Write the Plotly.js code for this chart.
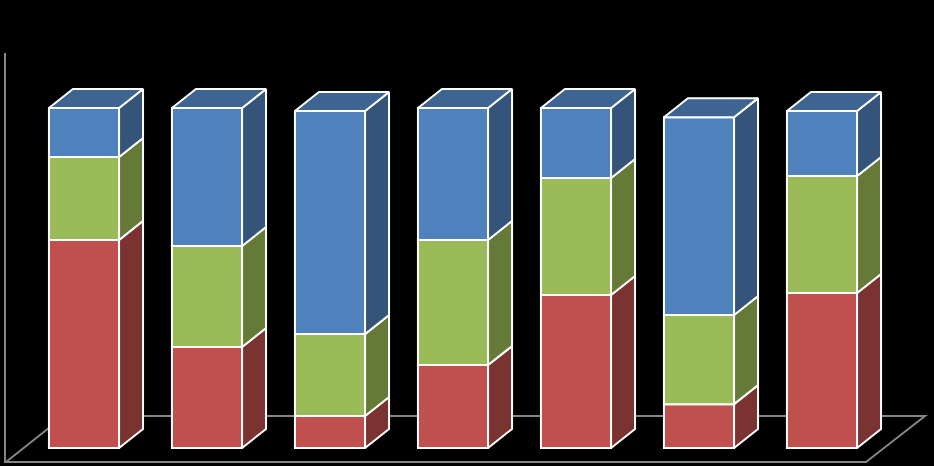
<!DOCTYPE html>
<html>
<head>
<meta charset="utf-8">
<script src="https://cdn.plot.ly/plotly-3.0.1.min.js"></script>
<style>html,body{margin:0;padding:0;background:#000;}#chart{width:934px;height:466px;}</style>
</head>
<body>
<div id="chart"></div>
<script>
// ---- data ----
const categories = ['1', '2', '3', '4', '5', '6', '7'];
const seriesRed   = [61.2, 29.7,  9.4, 24.4, 45.0, 12.9, 45.6];
const seriesGreen = [24.4, 29.7, 24.1, 36.8, 34.4, 26.2, 34.4];
const seriesBlue  = [14.4, 40.6, 65.6, 38.8, 20.6, 58.2, 19.1];

// ---- styling ----
const styles = [
  {values: seriesRed,   front: '#C0504D', side: '#7B3331'},
  {values: seriesGreen, front: '#9BBB59', side: '#667A38'},
  {values: seriesBlue,  front: '#4F81BD', side: '#345479'}
];
const topColor = '#3E6591';
const barWidth = 0.57;   // in category units
const depthX = 0.195;    // 3D offset, category units
const depthY = 5.6;      // 3D offset, value units
const edge = {color: '#FFFFFF', width: 2};

const xs = categories.map((_, i) => i);
const traces = [];
const cum = categories.map(() => 0);

styles.forEach(s => {
  const bases = cum.slice();
  traces.push({
    type: 'bar', x: xs, y: s.values, base: bases, width: barWidth,
    marker: {color: s.front, line: edge}, hoverinfo: 'skip', showlegend: false
  });
  // side faces
  const sx = [], sy = [];
  xs.forEach((c, i) => {
    const x1 = c + barWidth / 2;
    const b = bases[i], t = bases[i] + s.values[i];
    sx.push(x1, x1 + depthX, x1 + depthX, x1, x1, null);
    sy.push(b, b + depthY, t + depthY, t, b, null);
  });
  traces.push({
    type: 'scatter', mode: 'lines', x: sx, y: sy, fill: 'toself',
    fillcolor: s.side, line: edge, hoverinfo: 'skip', showlegend: false
  });
  xs.forEach((_, i) => { cum[i] += s.values[i]; });
});

// top faces
const tx = [], ty = [];
xs.forEach((c, i) => {
  const x0 = c - barWidth / 2, x1 = c + barWidth / 2, T = cum[i];
  tx.push(x0, x0 + depthX, x1 + depthX, x1, x0, null);
  ty.push(T, T + depthY, T + depthY, T, T, null);
});
traces.push({
  type: 'scatter', mode: 'lines', x: tx, y: ty, fill: 'toself',
  fillcolor: topColor, line: edge, hoverinfo: 'skip', showlegend: false
});

// floor and wall (geometry in page fractions)
const W = 934, H = 466;
const px = v => v / W, py = v => 1 - v / H;
const gray = {color: '#858585', width: 2};
const shapes = [
  {type: 'line', xref: 'paper', yref: 'paper', x0: px(5), y0: py(53), x1: px(5), y1: py(462), line: gray, layer: 'below'},
  {type: 'path', xref: 'paper', yref: 'paper', layer: 'below', line: gray,
   path: `M ${px(6)} ${py(462)} L ${px(866)} ${py(462)} L ${px(925)} ${py(416)} L ${px(64)} ${py(416)} Z`}
];

const layout = {
  width: W, height: H,
  margin: {l: 0, r: 0, t: 0, b: 0},
  paper_bgcolor: '#000000', plot_bgcolor: 'rgba(0,0,0,0)',
  barmode: 'overlay',
  showlegend: false,
  xaxis: {range: [-84 / 123, 850 / 123], visible: false, fixedrange: true},
  yaxis: {range: [-18 / 3.4, 448 / 3.4], visible: false, fixedrange: true},
  shapes: shapes
};

Plotly.newPlot('chart', traces, layout, {staticPlot: true, displayModeBar: false});
</script>
</body>
</html>
